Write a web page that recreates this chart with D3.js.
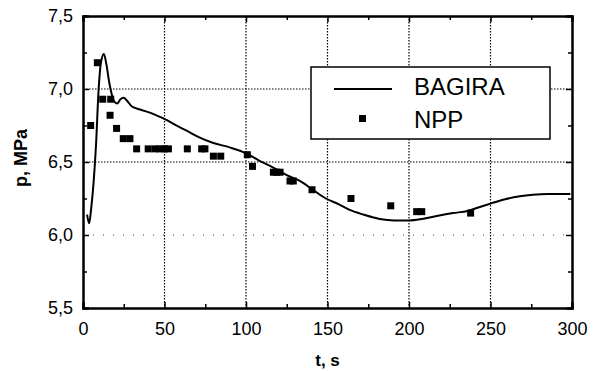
<!DOCTYPE html>
<html>
<head>
<meta charset="utf-8">
<script src="https://cdn.jsdelivr.net/npm/d3@7"></script>
<style>
  body { margin: 0; background: #fff; }
  text { font-family: "Liberation Sans", Arial, sans-serif; fill: #000; }
  .grid line { stroke: #000; stroke-width: 1.2; stroke-dasharray: 1.5,1.5; }
</style>
</head>
<body>
<script>
// BAGIRA calculation (time s, pressure MPa)
var bagiraT = [2.5, 3.8, 5, 6.5, 8, 9.5, 11, 12.8, 14.5, 16, 17.5, 19.5, 21, 23, 25, 27, 30, 35, 43, 49,
  59, 66, 71, 80, 90, 100, 108, 117, 125, 133, 141, 149, 157, 164, 172, 182, 191, 200, 208, 217, 227,
  236, 243, 250, 259, 268, 276, 285, 292, 299];
var bagiraP = [6.14, 6.08, 6.18, 6.36, 6.62, 6.98, 7.18, 7.24, 7.16, 7.05, 6.97, 6.91, 6.9, 6.93, 6.94, 6.92, 6.88, 6.86, 6.83, 6.8,
  6.74, 6.7, 6.67, 6.63, 6.6, 6.56, 6.51, 6.46, 6.41, 6.37, 6.31, 6.25, 6.21, 6.17, 6.14, 6.11, 6.1, 6.1, 6.11, 6.13, 6.15,
  6.165, 6.19, 6.215, 6.245, 6.265, 6.275, 6.28, 6.28, 6.28];

// plant measurement
var nppT = [4.7, 8.8, 12.1, 17, 16.6, 20.6, 24.7, 28.8, 32.9, 40, 44.2, 47.2, 50, 52.4, 64, 72.8, 74.8, 80, 84.5,
  100.8, 104, 116.8, 118.8, 120.9, 127, 129, 140.5, 164.4, 188.8, 204.7, 207.8, 237.8];
var nppP = [6.75, 7.18, 6.93, 6.93, 6.82, 6.73, 6.66, 6.66, 6.59, 6.59, 6.59, 6.59, 6.59, 6.59, 6.59, 6.59, 6.59, 6.54, 6.54,
  6.55, 6.47, 6.43, 6.43, 6.43, 6.37, 6.37, 6.31, 6.25, 6.2, 6.16, 6.16, 6.15];

var xTicks = [0, 50, 100, 150, 200, 250, 300];
var yTicks = [5.5, 6.0, 6.5, 7.0, 7.5];

var width = 597,
    height = 371,
    margin = {top: 16, right: 25, bottom: 63, left: 83};

var x = d3.scaleLinear().domain([0, 300]).range([margin.left, width - margin.right]);
var y = d3.scaleLinear().domain([5.5, 7.5]).range([height - margin.bottom, margin.top]);

var svg = d3.select("body").append("svg")
    .attr("width", width)
    .attr("height", height);

var fmt = function(d) { return d3.format(".1f")(d).replace(".", ","); };

// grid
var grid = svg.append("g").attr("class", "grid");
grid.selectAll(".gx")
    .data([50, 100, 150, 200, 250])
  .enter().append("line")
    .attr("x1", function(d) { return x(d); })
    .attr("x2", function(d) { return x(d); })
    .attr("y1", y(7.5))
    .attr("y2", y(5.5));
grid.selectAll(".gy")
    .data([6.5, 7.0])
  .enter().append("line")
    .attr("x1", x(0))
    .attr("x2", x(300))
    .attr("y1", function(d) { return y(d); })
    .attr("y2", function(d) { return y(d); });
grid.append("line")
    .attr("x1", x(0)).attr("x2", x(300))
    .attr("y1", y(6.0)).attr("y2", y(6.0))
    .style("stroke-dasharray", "1,9")
    .style("stroke", "#444");

// axes, ticks inside on all four sides
var minorX = d3.range(25, 300, 50);
var minorY = [5.75, 6.25, 6.75, 7.25];

svg.append("g")
    .attr("transform", "translate(0," + y(5.5) + ")")
    .call(d3.axisBottom(x).tickValues(xTicks).tickSize(-6).tickPadding(14).tickFormat(d3.format("d")));
svg.append("g")
    .attr("transform", "translate(0," + y(5.5) + ")")
    .call(d3.axisBottom(x).tickValues(minorX).tickSize(-4).tickFormat(""));
svg.append("g")
    .attr("transform", "translate(0," + y(7.5) + ")")
    .call(d3.axisTop(x).tickValues(xTicks).tickSize(-6).tickFormat(""));
svg.append("g")
    .attr("transform", "translate(0," + y(7.5) + ")")
    .call(d3.axisTop(x).tickValues(minorX).tickSize(-4).tickFormat(""));
svg.append("g")
    .attr("transform", "translate(" + x(0) + ",0)")
    .call(d3.axisLeft(y).tickValues(yTicks).tickSize(-6).tickPadding(10).tickFormat(fmt));
svg.append("g")
    .attr("transform", "translate(" + x(0) + ",0)")
    .call(d3.axisLeft(y).tickValues(minorY).tickSize(-4).tickFormat(""));
svg.append("g")
    .attr("transform", "translate(" + x(300) + ",0)")
    .call(d3.axisRight(y).tickValues(yTicks).tickSize(-6).tickFormat(""));
svg.append("g")
    .attr("transform", "translate(" + x(300) + ",0)")
    .call(d3.axisRight(y).tickValues(minorY).tickSize(-4).tickFormat(""));

svg.selectAll(".domain").attr("stroke", "#000").attr("stroke-width", 2);
svg.selectAll(".tick line").attr("stroke", "#000").attr("stroke-width", 1.5);
svg.selectAll(".tick text")
    .style("font-size", "18px")
    .style("font-family", "'Liberation Sans', Arial, sans-serif");

// BAGIRA line
var line = d3.line()
    .x(function(d, i) { return x(bagiraT[i]); })
    .y(function(d) { return y(d); })
    .curve(d3.curveMonotoneX);

svg.append("path")
    .datum(bagiraP)
    .attr("d", line)
    .attr("fill", "none")
    .attr("stroke", "#000")
    .attr("stroke-width", 2);

// NPP markers
svg.append("g").selectAll("rect")
    .data(nppP)
  .enter().append("rect")
    .attr("x", function(d, i) { return x(nppT[i]) - 3.5; })
    .attr("y", function(d) { return y(d) - 3.5; })
    .attr("width", 7)
    .attr("height", 7)
    .attr("fill", "#000");

// legend
var lg = svg.append("g").attr("transform", "translate(311,67)");
lg.append("rect")
    .attr("width", 239)
    .attr("height", 72)
    .attr("fill", "#fff")
    .attr("stroke", "#000")
    .attr("stroke-width", 1.5);
lg.append("line")
    .attr("x1", 23).attr("x2", 81)
    .attr("y1", 22).attr("y2", 22)
    .attr("stroke", "#000").attr("stroke-width", 2);
lg.append("rect")
    .attr("x", 48).attr("y", 48)
    .attr("width", 7).attr("height", 7)
    .attr("fill", "#000");
lg.append("text").attr("x", 103).attr("y", 28)
    .style("font-size", "24px").text("BAGIRA");
lg.append("text").attr("x", 103).attr("y", 61)
    .style("font-size", "24px").text("NPP");

// axis titles
svg.append("text")
    .attr("x", x(150))
    .attr("y", 366)
    .attr("text-anchor", "middle")
    .style("font-size", "17px")
    .style("font-weight", "bold")
    .text("t, s");
svg.append("text")
    .attr("transform", "translate(27,158)rotate(-90)")
    .attr("text-anchor", "middle")
    .style("font-size", "18px")
    .style("font-weight", "bold")
    .text("p, MPa");
</script>
</body>
</html>
